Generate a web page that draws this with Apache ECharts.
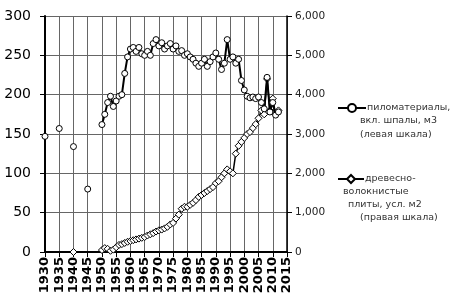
<!DOCTYPE html>
<html>
<head>
<meta charset="utf-8">
<script src="https://cdn.jsdelivr.net/npm/echarts@6/dist/echarts.min.js"></script>
<style>
  html, body { margin: 0; padding: 0; background: #fff; }
  #chart { width: 465px; height: 299px; }
</style>
</head>
<body>
<div id="chart"></div>
<script>
// years on the x axis
const firstYear = 1930;
const lastYear = 2015;

// lumber (left scale): a few scattered early points, then yearly from 1950
const lumberEarlyYears = [1930, 1935, 1940, 1945];
const lumberEarly = [147, 157, 134, 80];
const lumberStart = 1950;
const lumber = [
  162, 175, 190, 198, 185, 192, 198, 200, 227, 248,
  258, 260, 255, 260, 252, 250, 255, 250, 265, 270,
  262, 266, 258, 262, 265, 258, 262, 255, 256, 250,
  252, 248, 245, 240, 236, 240, 245, 236, 242, 248,
  253, 245, 232, 240, 270, 245, 248, 240, 245, 218,
  206, 198, 196, 197, 195, 197, 190, 182, 222, 178,
  190, 174, 178
];

// fibreboard (right scale)
const boardEarlyYears = [1940];
const boardEarly = [0];
const boardStart = 1950;
const board = [
  50, 100, 80, 30, 60, 120, 180, 200, 230, 260,
  280, 300, 320, 340, 360, 380, 420, 450, 480, 520,
  550, 570, 600, 640, 700, 740, 850, 950, 1100, 1150,
  1150, 1200, 1250, 1320, 1400, 1450, 1500, 1550, 1600, 1650,
  1750, 1800, 1900, 2000, 2100, 2050, 2000, 2500, 2700, 2800,
  2900, 3000, 3050, 3150, 3250, 3400, 3600, 3500, 4400, 3600,
  3900, 3500, 3600
];

const name1 = 'пиломатериалы,';
const name1rest = ['вкл. шпалы, м3', '(левая шкала)'];
const name2 = 'древесно-';
const name2rest = ['волокнистые', 'плиты, усл. м2', '(правая шкала)'];

const years = [];
for (let y = firstYear; y <= lastYear; y++) years.push(String(y));

function build(earlyYears, early, start, vals) {
  const out = years.map(() => null);
  earlyYears.forEach((y, i) => { out[y - firstYear] = early[i]; });
  vals.forEach((v, i) => { out[start + i - firstYear] = v; });
  return out;
}

const font = 'DejaVu Sans';
const gridLine = { color: '#666', type: 'solid', width: 1 };

const myChart = echarts.init(document.getElementById('chart'));
const option = {
  animation: false,
  backgroundColor: '#fff',
  grid: { left: 45, right: 178, top: 16, bottom: 47 },
  xAxis: {
    type: 'category',
    data: years,
    boundaryGap: false,
    axisLine: { lineStyle: { color: '#000', width: 2 } },
    axisTick: { show: true, interval: 4, length: 5, lineStyle: { color: '#000' } },
    splitLine: { show: true, interval: 4, lineStyle: gridLine },
    axisLabel: {
      interval: 4, rotate: 90, margin: 5,
      color: '#000', fontFamily: font, fontSize: 13, fontWeight: 'bold'
    }
  },
  yAxis: [
    {
      type: 'value', min: 0, max: 300, interval: 50,
      axisLine: { show: true, lineStyle: { color: '#000', width: 2 } },
      axisTick: { show: true, length: 5, lineStyle: { color: '#000' } },
      splitLine: { show: true, lineStyle: gridLine },
      axisLabel: { color: '#000', fontFamily: font, fontSize: 14, margin: 14 }
    },
    {
      type: 'value', min: 0, max: 6000, interval: 1000,
      axisLine: { show: true, lineStyle: { color: '#000', width: 1.5 } },
      axisTick: { show: true, length: 5, lineStyle: { color: '#000' } },
      splitLine: { show: false },
      axisLabel: { color: '#222', fontFamily: font, fontSize: 10.5, margin: 8 }
    }
  ],
  legend: [
    {
      orient: 'vertical', left: 332, top: 98, itemWidth: 28, itemHeight: 10, itemGap: 0,
      data: [name1],
      textStyle: { color: '#333', fontFamily: font, fontSize: 9.5, padding: [0, 0, 0, -4] }
    },
    {
      orient: 'vertical', left: 332, top: 169, itemWidth: 26, itemHeight: 10, itemGap: 0,
      data: [name2],
      textStyle: { color: '#333', fontFamily: font, fontSize: 9.5, padding: [0, 0, 0, -4] }
    }
  ],
  graphic: name1rest.map((t, i) => ({
    type: 'text', left: 360, top: 116 + i * 14,
    style: { text: t, fill: '#333', font: '9.5px "DejaVu Sans"' }
  })).concat(name2rest.map((t, i) => ({
    type: 'text', left: [343, 348, 360][i], top: 187 + i * 13,
    style: { text: t, fill: '#333', font: '9.5px "DejaVu Sans"' }
  }))),
  series: [
    {
      name: name1,
      type: 'line',
      yAxisIndex: 0,
      data: build(lumberEarlyYears, lumberEarly, lumberStart, lumber),
      symbol: 'circle', symbolSize: 6, showSymbol: true, showAllSymbol: true,
      lineStyle: { color: '#000', width: 2 },
      itemStyle: { color: '#fff', borderColor: '#000', borderWidth: 1 },
      z: 3
    },
    {
      name: name2,
      type: 'line',
      yAxisIndex: 1,
      data: build(boardEarlyYears, boardEarly, boardStart, board),
      symbol: 'diamond', symbolSize: 7, showSymbol: true, showAllSymbol: true,
      lineStyle: { color: '#000', width: 1.5 },
      itemStyle: { color: '#fff', borderColor: '#000', borderWidth: 1 },
      z: 2
    }
  ]
};
myChart.setOption(option);
</script>
</body>
</html>
